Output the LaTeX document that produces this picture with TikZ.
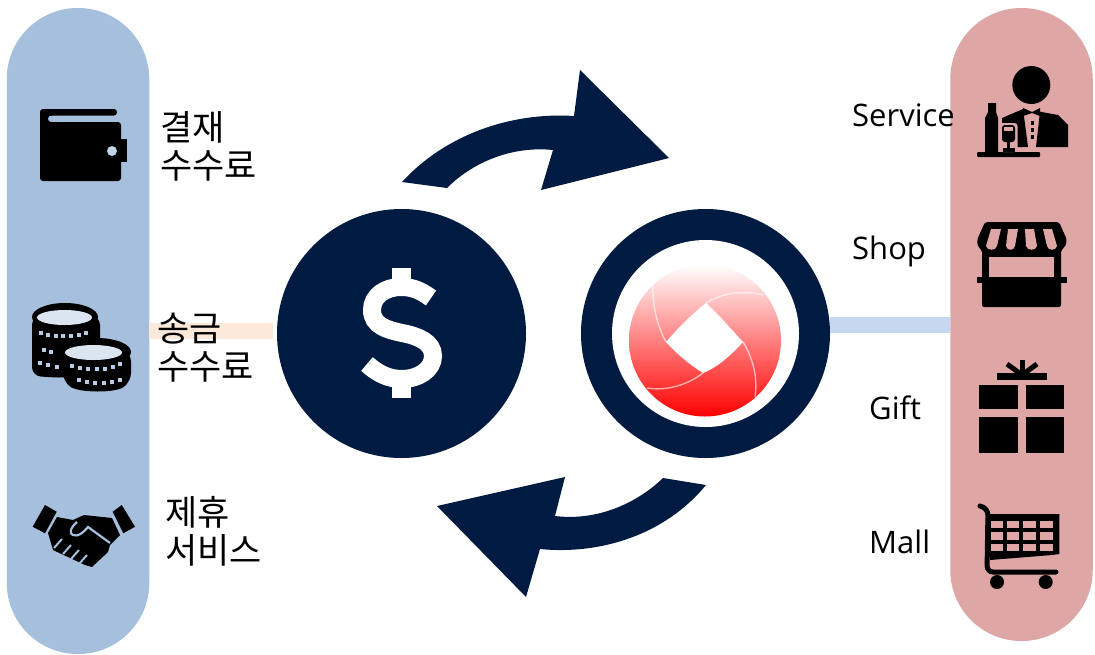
\documentclass[tikz,border=0pt]{standalone}
\usepackage{fontspec}
\setmainfont{Open Sans}
\newfontfamily\krfont{Noto Sans CJK KR}
\definecolor{navy}{HTML}{001B41}
\definecolor{pillblue}{HTML}{A6BFDD}
\definecolor{pillred}{HTML}{DFA6A6}
\definecolor{barblue}{HTML}{C5D8F0}
\definecolor{barorange}{HTML}{FDE9D9}
\begin{document}
\begin{tikzpicture}[x=1pt,y=-1pt,
  pill/.style={rectangle,rounded corners=71pt,inner sep=0pt,minimum width=142.5pt},
  disc/.style={circle,inner sep=0pt,fill=navy,minimum size=249pt},
  krlabel/.style={align=left,anchor=west,inner sep=0pt,font=\krfont\fontsize{35}{38}\selectfont},
  enlabel/.style={anchor=base west,inner sep=0pt,font=\fontsize{31}{34}\selectfont},
  icon/.style={fill=black,draw=none},
]
\useasboundingbox (0,0) rectangle (1095,654);
% panels
\node[pill,fill=pillblue,minimum height=646pt] (leftpill) at (78,331) {};
\node[pill,fill=pillred,minimum height=633pt] (rightpill) at (1021.5,324.5) {};
% discs
\node[disc] (dollar) at (401.5,333.5) {};
\node[disc] (ring) at (705.5,333.5) {};
\node[circle,inner sep=0pt,fill=white,minimum size=187pt] (ringhole) at (705.5,333.5) {};
% bars
\draw[barorange,line width=16pt,shorten >=4pt] (leftpill.east |- 0,331) -- (dollar.west |- 0,331);
\draw[barblue,line width=16pt] (ring.east |- 0,325) -- (rightpill.west |- 0,325);
% cycle arrows
\fill[navy] (402,182) .. controls (445,135) and (510,112) .. (574,116) -- (580,70) -- (669,158) -- (541,190) -- (553,150)
  .. controls (515,146) and (475,160) .. (447,188) -- cycle;
\fill[navy] (706,485) .. controls (665,535) and (600,555) .. (540,549) -- (526,597) -- (437,506) -- (565,477) -- (555,516)
  .. controls (595,521) and (635,505) .. (663,478) -- cycle;
% dollar glyph
\fill[white] (392,268) rectangle (411,292);
\fill[white] (392,374) rectangle (411,398);
\draw[white,line width=18pt] (431,298) .. controls (420,290) and (412,287) .. (401,287)
  .. controls (385,287) and (372,296) .. (372,310)
  .. controls (372,326) and (388,330) .. (402,333)
  .. controls (418,336) and (433,342) .. (433,356)
  .. controls (433,370) and (418,379) .. (402,379)
  .. controls (389,379) and (378,374) .. (367,364);
% logo
\node[circle,inner sep=0pt,minimum size=152pt,top color=white,bottom color=red] (logo) at (705,340.5) {};
\fill[white] (706,303) .. controls (720,316) and (732,330) .. (743,342)
  .. controls (730,356) and (718,367) .. (703,373)
  .. controls (690,365) and (677,354) .. (666,342)
  .. controls (678,328) and (692,314) .. (706,303) -- cycle;
\draw[white,opacity=.6,line width=1.4pt] (666,342) .. controls (657,325) and (652,305) .. (653,283);
\draw[white,opacity=.6,line width=1.4pt] (706,303) .. controls (722,293) and (742,290) .. (763,295);
\draw[white,opacity=.6,line width=1.4pt] (743,342) .. controls (753,358) and (758,378) .. (755,397);
\draw[white,opacity=.6,line width=1.4pt] (703,373) .. controls (686,386) and (665,391) .. (647,388);
% wallet
\fill[icon,rounded corners=3pt] (40,122) -- (40,109) -- (117,109) -- (117,115.5) -- (48,115.5) -- (48,122) -- (121,122) -- (121,181) -- (40,181) -- cycle;
\fill[icon] (48,115) rectangle (52,116);
\fill[icon] (120,139) rectangle (126.5,162);
\fill[pillblue!70!white] (112,151) circle (5);
% coins
\fill[icon,rounded corners=9pt] (32,316) -- (32,376) -- (64,378) -- (100,370) -- (100,316) -- cycle;
\fill[icon] (65,317) ellipse (33 and 14);
\fill[pillblue!40!white] (64.5,317.5) ellipse (27.5 and 7.5);
\fill[icon,rounded corners=9pt] (63,352) -- (63,382) .. controls (80,393) and (115,393) .. (131,382) -- (131,352) -- cycle;
\fill[icon] (97,352) ellipse (34 and 14);
\fill[pillblue!40!white] (93.5,352.5) ellipse (28.5 and 7.5);
\foreach \cx/\cy in {41/333,48/335,56/336,63/336,71/336,79/335,86/333,
  44/350,51/352,40/363,48/365,57/367,
  72/366,80/368,88/369,97/369,105/369,113/367,120/364,
  79/380,87/382,95/383,104/383,112/382,120/380}
  \fill[pillblue!80!white] (\cx-2,\cy-1.8) rectangle (\cx+2,\cy+1.8);
% handshake
\fill[icon] (45,505) -- (56.7,511.7) -- (45,533.3) -- (32.7,526.7) -- cycle;
\fill[icon] (121.7,505) -- (135,526.7) -- (123.3,533.3) -- (112.7,511.7) -- cycle;
\fill[icon] (57,517) -- (73,520) -- (84,515) -- (112,518) -- (120,535) -- (110,545) -- (108,552) -- (92,567) -- (85,565) -- (53,550) -- (48,533) -- cycle;
\draw[pillblue,line width=2.2pt] (77,522) .. controls (70,528) and (69,534) .. (73,535)
  .. controls (78,537) and (83,533) .. (88,527) -- (110,543);
\foreach \fa/\fb in {60/541,69/547,77/552,85/557}
  \draw[pillblue,line width=2pt] (\fa-6,\fb+7) -- (\fa+2,\fb-2);
% waiter
\fill[icon] (1031.3,85) circle (19);
\fill[icon] (988,103) -- (996,103) -- (996,112) -- (998,118) -- (998,152) -- (985,152) -- (985,118) -- (988,112) -- cycle;
\fill[icon,rounded corners=1pt] (977,152) rectangle (1040,157);
\fill[icon] (1002,118) -- (1023,109) -- (1028,147) -- (1013,147) -- (1002,125) -- cycle;
\fill[icon] (1040,111.7) -- (1058,115) -- (1068,125) -- (1068,147) -- (1036,147) -- cycle;
\fill[icon] (1023,108) -- (1032,112) -- (1040,108) -- (1040,116) -- (1032,113) -- (1023,116) -- cycle;
\fill[icon] (1030.5,121) rectangle (1033.5,125);
\fill[icon] (1030.5,128) rectangle (1033.5,132);
\fill[icon] (1030.5,135) rectangle (1033.5,139);
\fill[pillred,rounded corners=3pt] (999,123) rectangle (1017.5,152);
\fill[icon,rounded corners=3pt] (1002,125) rectangle (1015,142);
\fill[pillred] (1004,127) rectangle (1013,131);
\fill[icon] (1007,141) rectangle (1010,149);
\fill[icon] (1002.5,148) rectangle (1015,152);
% shop
\fill[icon,rounded corners=2pt] (985,222) -- (1059,222) -- (1067,240) -- (1065,247) -- (1061,250) -- (1061,307) -- (982,307) -- (982,250) -- (978,247) -- (977,240) -- cycle;
\fill[icon] (977,277) rectangle (1067,283);
\fill[pillred] (989,257) rectangle (1054,277);
\foreach \tl/\tr/\br/\bl in {991/1001/997/986,1008/1018/1015/1006,1025/1034/1037/1026,1043/1052/1057/1047}
  \fill[pillred] (\tl,229) -- (\tr,229) -- (\br,246) .. controls (\br-1,251) and (\bl+1,251) .. (\bl,246) -- cycle;
% gift
\draw[line width=5pt] (1022,375) -- (1007,364);
\draw[line width=5pt] (1022,375) -- (1022,360);
\draw[line width=5pt] (1022,375) -- (1037,364);
\fill[icon] (997,373) rectangle (1047,380);
\fill[icon] (979,385) rectangle (1018,409);
\fill[icon] (1026,385) rectangle (1064,409);
\fill[icon] (979,417) rectangle (1018,453);
\fill[icon] (1026,417) rectangle (1064,453);
% cart
\fill[icon] (988,514) -- (1059.3,514) -- (1059.3,554) -- (1052,555) -- (990,560) -- cycle;
\foreach \xa/\xb in {991/1002.7,1006.7/1019.3,1023.3/1036,1040/1052.7}{
  \fill[pillred] (\xa,521) rectangle (\xb,528.3);
  \fill[pillred] (\xa,532) rectangle (\xb,540);
  \fill[pillred] (\xa,544) rectangle (\xb,551);
}
\draw[line width=5pt,line cap=round,rounded corners=6pt] (980,506) -- (988,509) -- (987,572) -- (1056,572);
\fill[icon] (997,582) circle (7);
\fill[icon] (1045.7,582) circle (7);
% labels
\node[krlabel] (pay) at (160,146) {결재\\수수료};
\node[krlabel] (send) at (157,348) {송금\\수수료};
\node[krlabel] (partner) at (165,531) {제휴\\서비스};
\node[enlabel] (service) at (852,126) {Service};
\node[enlabel] (shop) at (852,259) {Shop};
\node[enlabel] (gift) at (869,419) {Gift};
\node[enlabel] (mall) at (869,553) {Mall};
\end{tikzpicture}
\end{document}
